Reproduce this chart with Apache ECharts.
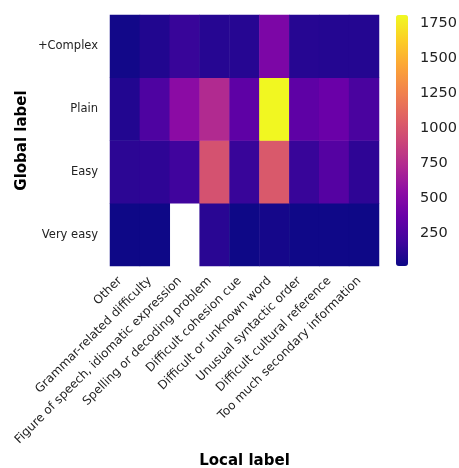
<!DOCTYPE html>
<html>
<head>
<meta charset="utf-8">
<script src="https://cdn.jsdelivr.net/npm/echarts@6/dist/echarts.min.js"></script>
<style>
  html, body { margin: 0; padding: 0; background: #fff; }
  #chart { width: 459px; height: 468px; }
</style>
</head>
<body>
<div id="chart"></div>
<script>
// local labels (columns)
var localLabels = [
  'Other',
  'Grammar-related difficulty',
  'Figure of speech, idiomatic expression',
  'Spelling or decoding problem',
  'Difficult cohesion cue',
  'Difficult or unknown word',
  'Unusual syntactic order',
  'Difficult cultural reference',
  'Too much secondary information'
];
// global labels, bottom to top
var globalLabels = ['Very easy', 'Easy', 'Plain', '+Complex'];

// counts per row, same order as localLabels (null = no data)
var veryEasy = [15, 15, null, 110, 15, 40, 20, 20, 15];
var easy     = [120, 125, 190, 980, 160, 1020, 160, 280, 125];
var plain    = [85, 250, 530, 730, 320, 1800, 320, 370, 230];
var complex  = [30, 80, 160, 100, 100, 460, 100, 90, 90];

var cbTicks = [250, 500, 750, 1000, 1250, 1500, 1750];
var vMin = 12, vMax = 1810;

var plasma = ['#0d0887', '#41049d', '#6a00a8', '#8f0da4', '#b12a90',
  '#cc4778', '#e16462', '#f2844b', '#fca636', '#fcce25', '#f0f921'];

var rows = [veryEasy, easy, plain, complex];
var data = [];
rows.forEach(function(r, yi) {
  r.forEach(function(v, xi) {
    if (v !== null) data.push([xi, yi, v]);
  });
});

var font = 'DejaVu Sans';
var chart = echarts.init(document.getElementById('chart'));
chart.setOption({
  animation: false,
  textStyle: { fontFamily: font },
  grid: [
    { left: 110, right: 80, top: 15, bottom: 202, containLabel: false, outerBoundsMode: 'none' },
    { left: 396, top: 15, width: 12, height: 251, containLabel: false, outerBoundsMode: 'none' }
  ],
  xAxis: [{
    type: 'category',
    data: localLabels,
    name: 'Local label',
    nameLocation: 'middle',
    nameGap: 188,
    nameTextStyle: { fontWeight: 'bold', fontSize: 15, color: '#000' },
    axisLine: { show: false },
    axisTick: { alignWithLabel: true, length: 4, lineStyle: { color: '#333' } },
    axisLabel: {
      rotate: 45, fontSize: 12, color: '#222', margin: 8, interval: 0,
      hideOverlap: false, padding: [0, 7, 0, 0]
    },
    splitLine: { show: false }
  }, {
    gridIndex: 1, type: 'value', show: false, min: 0, max: 1
  }],
  yAxis: [{
    type: 'category',
    data: globalLabels,
    name: 'Global label',
    nameLocation: 'middle',
    nameGap: 80,
    nameMoveOverlap: false,
    nameTextStyle: { fontWeight: 'bold', fontSize: 15, color: '#000' },
    axisLine: { show: false },
    axisTick: { alignWithLabel: true, length: 4, lineStyle: { color: '#333' } },
    axisLabel: { fontSize: 11.5, color: '#222', margin: 12 },
    splitLine: { show: false }
  }, {
    gridIndex: 1,
    type: 'value',
    position: 'right',
    min: vMin,
    max: vMax,
    axisLine: { show: false },
    splitLine: { show: false },
    axisTick: { show: true, length: 4, customValues: cbTicks, lineStyle: { color: '#333' } },
    axisLabel: {
      fontSize: 14.5, color: '#222', margin: 12, customValues: cbTicks,
      formatter: function(v) { return String(v); }
    }
  }],
  visualMap: {
    type: 'continuous',
    seriesIndex: 0,
    min: vMin,
    max: vMax,
    calculable: false,
    orient: 'vertical',
    left: 396,
    top: 15,
    itemWidth: 12,
    itemHeight: 251,
    padding: 0,
    text: null,
    inRange: { color: plasma }
  },
  series: [{
    type: 'heatmap',
    data: data,
    itemStyle: { borderWidth: 0 }
  }, {
    type: 'scatter',
    xAxisIndex: 1,
    yAxisIndex: 1,
    data: [],
    silent: true
  }]
});
</script>
</body>
</html>
